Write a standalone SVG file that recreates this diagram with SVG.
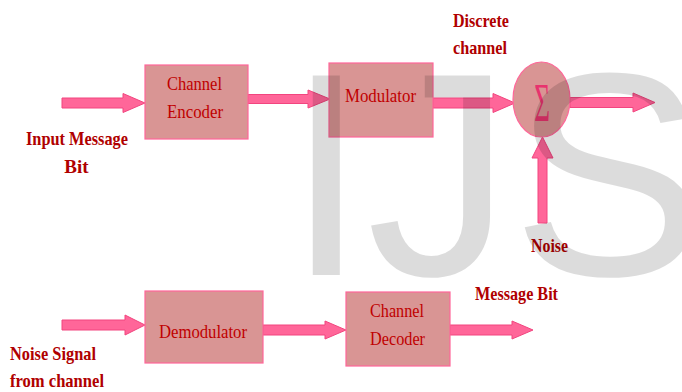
<svg xmlns="http://www.w3.org/2000/svg" width="682" height="392" viewBox="0 0 682 392">
<defs>
<style>
.box{fill:#d99594;stroke:#ff6699;stroke-width:1.2}
.arr{fill:#ff6699;stroke:#f2457f;stroke-width:1}
.bt{font-family:"Liberation Serif","Times New Roman",serif;font-size:19px;fill:#c00000}
.lb{font-family:"Liberation Serif","Times New Roman",serif;font-size:19px;font-weight:bold;fill:#b00000}
.wm{font-family:"Liberation Sans",Arial,sans-serif;font-size:290px;fill:#000;fill-opacity:0.137}
</style>
</defs>
<rect width="682" height="392" fill="#fff"/>
<g id="connectors">
<polygon class="arr" points="62,98 123,98 123,93.5 145,103 123,112.5 123,108 62,108"/>
<polygon class="arr" points="248,94.5 308,94.5 308,90 330,99 308,108 308,103.5 248,103.5"/>
<polygon class="arr" points="433,98 493,98 493,93.5 515,103 493,112.5 493,108 433,108"/>
<polygon class="arr" points="570,97.5 633,97.5 633,93 655,102.5 633,112 633,107.5 570,107.5"/>
<polygon class="arr" points="538,223 538,158 532,158 542.5,137 553,158 547,158 547,223"/>
<polygon class="arr" points="62,320 125,320 125,315 145,325 125,335 125,330 62,330"/>
<polygon class="arr" points="263,325 325,325 325,321 346,330 325,339 325,335 263,335"/>
<polygon class="arr" points="450,325 512,325 512,321 533,330 512,339 512,335 450,335"/>
</g>
<g id="channel-encoder">
<rect class="box" x="145" y="65" width="103" height="74"/>
<text class="bt" x="194.5" y="90" text-anchor="middle" textLength="55" lengthAdjust="spacingAndGlyphs">Channel</text>
<text class="bt" x="195" y="118" text-anchor="middle" textLength="56" lengthAdjust="spacingAndGlyphs">Encoder</text>
</g>
<g id="modulator">
<rect class="box" x="329" y="63" width="104" height="74"/>
<text class="bt" x="380.5" y="102" text-anchor="middle" textLength="71" lengthAdjust="spacingAndGlyphs">Modulator</text>
</g>
<g id="summer">
<ellipse class="box" cx="541.5" cy="99.5" rx="28.5" ry="37.5"/>
<text transform="translate(542,121) scale(1,2.05)" font-family="'Liberation Serif','Times New Roman',serif" font-size="27" fill="#e8336e" text-anchor="middle">Σ</text>
</g>
<g id="demodulator">
<rect class="box" x="145" y="291" width="118" height="72"/>
<text class="bt" x="203" y="338" text-anchor="middle" textLength="88" lengthAdjust="spacingAndGlyphs">Demodulator</text>
</g>
<g id="channel-decoder">
<rect class="box" x="346" y="292" width="104" height="74"/>
<text class="bt" x="397" y="317" text-anchor="middle" textLength="54" lengthAdjust="spacingAndGlyphs">Channel</text>
<text class="bt" x="397.5" y="345" text-anchor="middle" textLength="55" lengthAdjust="spacingAndGlyphs">Decoder</text>
</g>
<g id="labels">
<text class="lb" x="26" y="145" textLength="102" lengthAdjust="spacingAndGlyphs">Input Message</text>
<text class="lb" x="76.5" y="173" text-anchor="middle">Bit</text>
<text class="lb" x="453" y="27" textLength="56" lengthAdjust="spacingAndGlyphs">Discrete</text>
<text class="lb" x="453" y="54" textLength="54" lengthAdjust="spacingAndGlyphs">channel</text>
<text class="lb" x="531" y="252" textLength="37" lengthAdjust="spacingAndGlyphs">Noise</text>
<text class="lb" x="475" y="300" textLength="83" lengthAdjust="spacingAndGlyphs">Message Bit</text>
<text class="lb" x="10" y="360" textLength="86" lengthAdjust="spacingAndGlyphs">Noise Signal</text>
<text class="lb" x="10" y="387" textLength="94" lengthAdjust="spacingAndGlyphs">from channel</text>
</g>
<g id="watermark">
<text class="wm" x="286" y="275">IJS</text>
</g>
</svg>
